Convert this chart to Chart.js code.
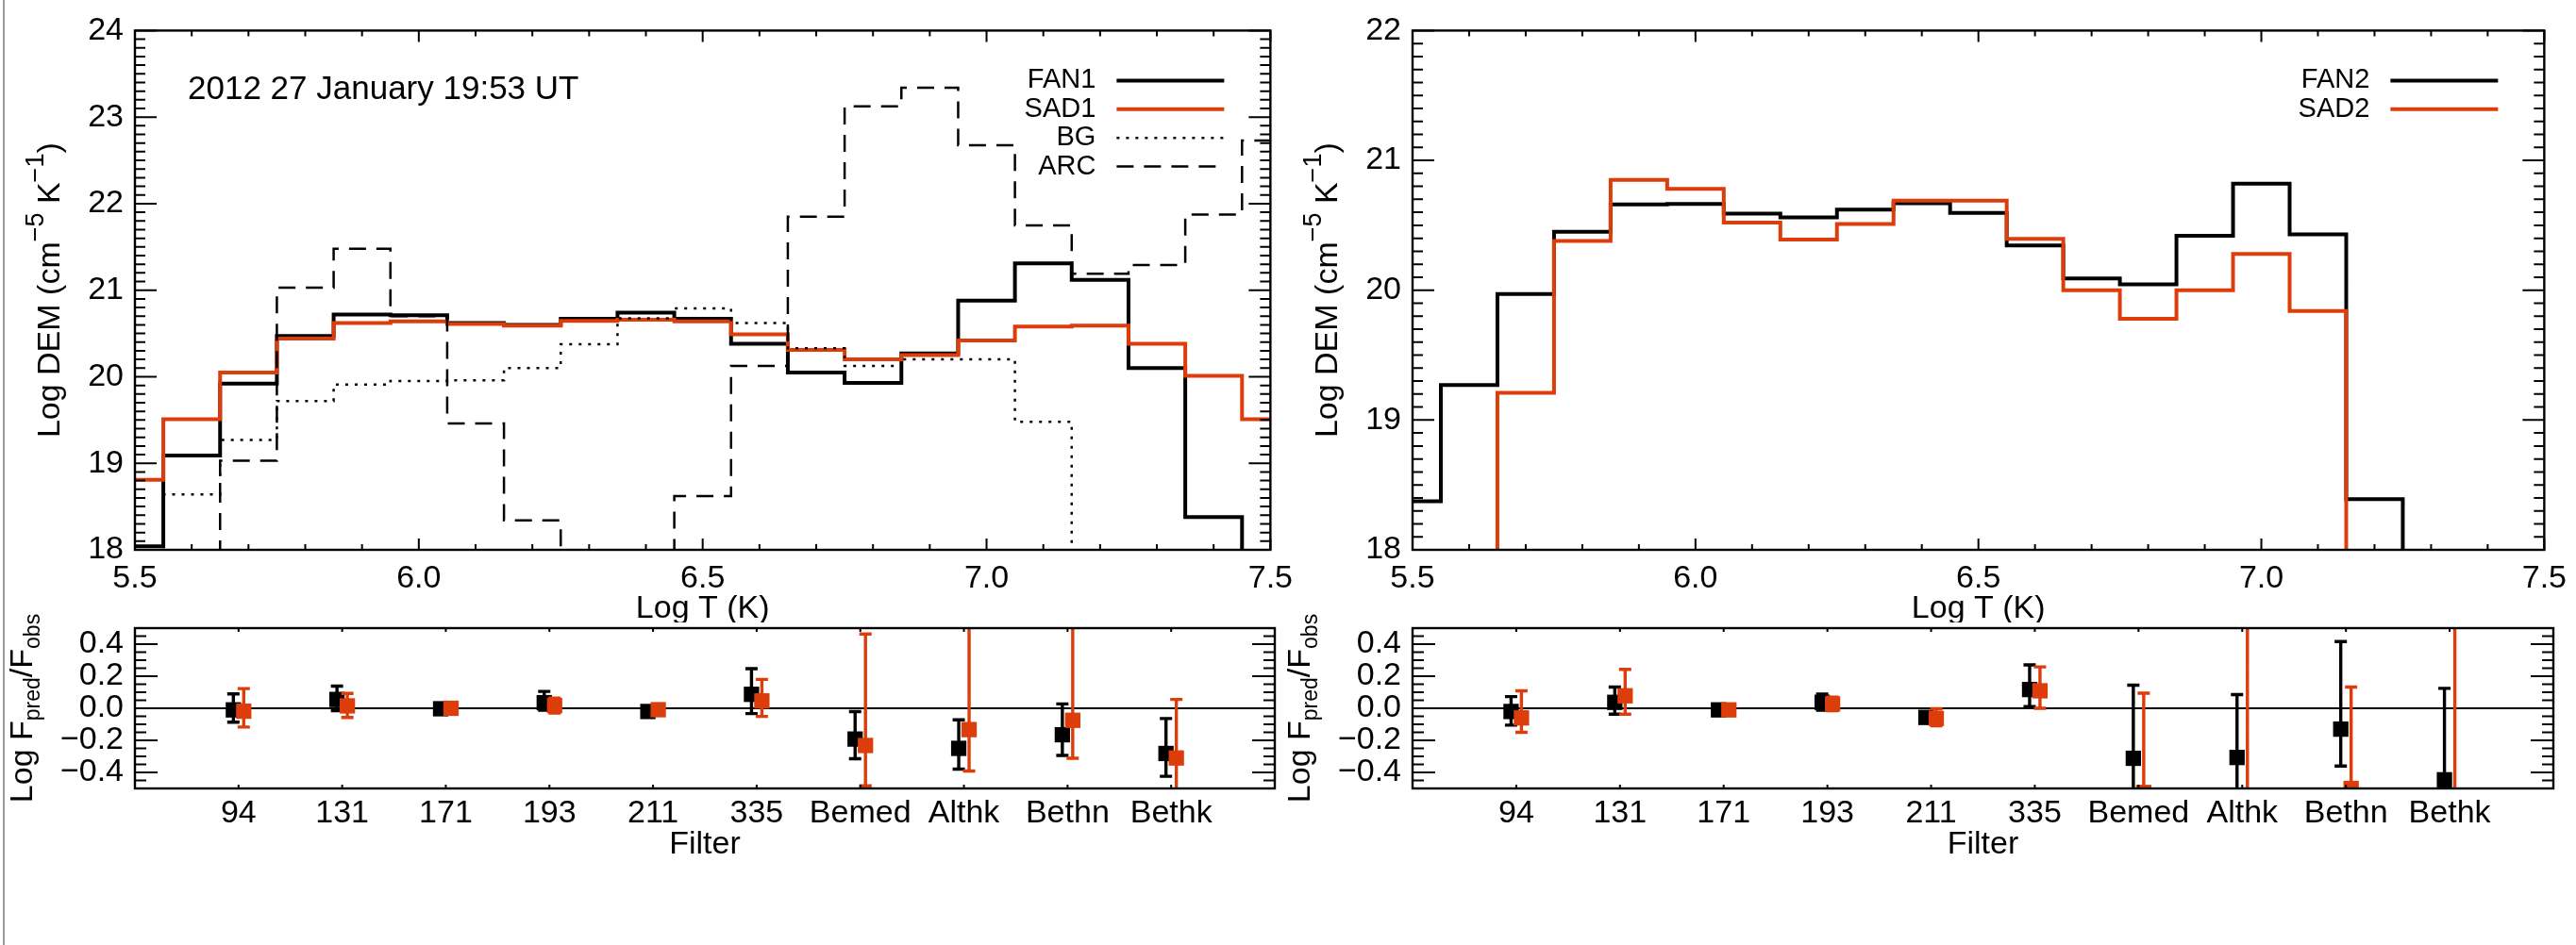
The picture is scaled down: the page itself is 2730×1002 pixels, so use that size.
<!DOCTYPE html>
<html>
<head>
<meta charset="utf-8">
<script src="https://cdn.jsdelivr.net/npm/chart.js@4.4.0/dist/chart.umd.min.js"></script>
<style>
  body { margin: 0; background: #fff; width: 2730px; height: 1002px; position: relative; overflow: hidden; }
  canvas { position: absolute; }
  .edge { position: absolute; left: 3px; top: 0; width: 2px; height: 1002px; background: #9a9a9a; }
</style>
</head>
<body>
<div class="edge"></div>
<canvas id="demLeft" width="1380" height="660" style="left:0;top:0"></canvas>
<canvas id="demRight" width="1370" height="660" style="left:1360px;top:0"></canvas>
<canvas id="resLeft" width="1380" height="402" style="left:0;top:600px"></canvas>
<canvas id="resRight" width="1370" height="402" style="left:1360px;top:600px"></canvas>
<script>
const FONT = '"Liberation Sans", Arial, Helvetica, sans-serif';
const RED = '#dc3d0a';

// bin centres, log T
const logT = [5.5, 5.6, 5.7, 5.8, 5.9, 6.0, 6.1, 6.2, 6.3, 6.4, 6.5,
              6.6, 6.7, 6.8, 6.9, 7.0, 7.1, 7.2, 7.3, 7.4, 7.5];

// Log DEM per bin (values below 18 fall off the plot)
const fan1 = [18.04, 19.09, 19.92, 20.47, 20.72, 20.71, 20.62, 20.60, 20.67, 20.74, 20.67,
              20.38, 20.05, 19.93, 20.27, 20.88, 21.31, 21.12, 20.10, 18.38, 17.0];
const sad1 = [18.81, 19.51, 20.05, 20.44, 20.62, 20.64, 20.61, 20.59, 20.645, 20.66, 20.64,
              20.49, 20.31, 20.20, 20.25, 20.42, 20.58, 20.59, 20.38, 20.01, 19.51];
const bg   = [17.0, 18.64, 19.27, 19.72, 19.91, 19.95, 19.96, 20.10, 20.375, 20.675, 20.79,
              20.62, 20.33, 20.125, 20.20, 20.20, 19.48, 17.0, 17.0, 17.0, 17.0];
const arc  = [17.0, 17.0, 19.03, 21.03, 21.48, 20.70, 19.46, 18.34, 17.0, 17.0, 18.62,
              20.125, 21.85, 23.125, 23.34, 22.675, 21.75, 21.19, 21.29, 21.875, 22.73];
const fan2 = [18.375, 19.27, 19.97, 20.45, 20.66, 20.665, 20.59, 20.56, 20.62, 20.67, 20.595,
              20.345, 20.09, 20.045, 20.42, 20.82, 20.43, 18.39, 17.0, 17.0, 17.0];
const sad2 = [17.0, 17.0, 19.21, 20.38, 20.85, 20.78, 20.52, 20.39, 20.51, 20.69, 20.69,
              20.395, 20.0, 19.78, 20.0, 20.28, 19.84, 17.0, 17.0, 17.0, 17.0];

// filter residuals: value, lower and upper end of error bar
const filters = ['94', '131', '171', '193', '211', '335', 'Bemed', 'Althk', 'Bethn', 'Bethk'];

const fan1Ratio = [-0.01, 0.055, -0.003, 0.035, -0.02, 0.087, -0.192, -0.25, -0.165, -0.282];
const fan1Lo    = [-0.087, -0.015, -0.013, -0.012, -0.04, -0.033, -0.315, -0.379, -0.294, -0.424];
const fan1Hi    = [0.09, 0.138, 0.007, 0.105, 0.0, 0.247, -0.021, -0.072, 0.027, -0.064];

const sad1Ratio = [-0.018, 0.015, 0.0, 0.017, -0.009, 0.046, -0.232, -0.133, -0.075, -0.31];
const sad1Lo    = [-0.117, -0.057, -0.008, -0.03, -0.025, -0.051, -0.484, -0.391, -0.312, -0.7];
const sad1Hi    = [0.123, 0.093, 0.008, 0.064, 0.007, 0.18, 0.463, 0.7, 0.7, 0.055];

const fan2Ratio = [-0.02, 0.037, -0.01, 0.037, -0.057, 0.117, -0.312, -0.307, -0.13, -0.446];
const fan2Lo    = [-0.105, -0.037, -0.025, -0.012, -0.085, 0.01, -0.8, -0.8, -0.36, -1.0];
const fan2Hi    = [0.073, 0.132, 0.005, 0.088, -0.03, 0.271, 0.144, 0.085, 0.416, 0.124];

const sad2Ratio = [-0.06, 0.078, -0.01, 0.027, -0.063, 0.109, -0.525, -0.9, -0.5, -0.9];
const sad2Lo    = [-0.15, -0.037, -0.02, -0.015, -0.109, 0.0, -1.2, -2.0, -1.2, -2.0];
const sad2Hi    = [0.109, 0.243, 0.0, 0.07, -0.003, 0.258, 0.094, 0.8, 0.132, 0.8];

const xy = (xs, ys) => ys.map((v, i) => ({ x: xs[i], y: v }));
const range = (a, b, step) => {
  const out = [];
  for (let v = a; v <= b + step / 1000; v += step) out.push(+v.toFixed(4));
  return out;
};

// IDL-style box with inward ticks on all four sides
const idlFrame = {
  id: 'idlFrame',
  afterDraw(chart, args, o) {
    const { ctx, chartArea: a, scales: { x, y } } = chart;
    ctx.save();
    ctx.strokeStyle = '#000';
    ctx.lineWidth = 2;
    ctx.beginPath();
    const xt = (vals, len) => vals.forEach(v => {
      const p = x.getPixelForValue(v);
      ctx.moveTo(p, a.bottom); ctx.lineTo(p, a.bottom - len);
      ctx.moveTo(p, a.top); ctx.lineTo(p, a.top + len);
    });
    const yt = (vals, len) => vals.forEach(v => {
      const p = y.getPixelForValue(v);
      ctx.moveTo(a.left, p); ctx.lineTo(a.left + len, p);
      ctx.moveTo(a.right, p); ctx.lineTo(a.right - len, p);
    });
    xt(o.xMinor, o.xLen[1]); xt(o.xMajor, o.xLen[0]);
    yt(o.yMinor, o.yLen[1]); yt(o.yMajor, o.yLen[0]);
    ctx.stroke();
    ctx.lineWidth = 2.4;
    ctx.strokeRect(a.left, a.top, a.right - a.left, a.bottom - a.top);
    ctx.restore();
  }
};

function drawRich(ctx, parts, cx, cy, rotate, align) {
  ctx.save();
  ctx.translate(cx, cy);
  if (rotate) ctx.rotate(-Math.PI / 2);
  let w = 0;
  parts.forEach(p => { ctx.font = `${p.size}px ${FONT}`; p.w = ctx.measureText(p.t).width; w += p.w; });
  let xx = align === 'left' ? 0 : -w / 2;
  ctx.fillStyle = '#000';
  ctx.textAlign = 'left';
  ctx.textBaseline = 'alphabetic';
  parts.forEach(p => {
    ctx.font = `${p.size}px ${FONT}`;
    ctx.fillText(p.t, xx, p.dy || 0);
    xx += p.w;
  });
  ctx.restore();
}

// axis titles, note and legend
const idlText = {
  id: 'idlText',
  afterDraw(chart, args, o) {
    const { ctx, chartArea: a } = chart;
    const midX = (a.left + a.right) / 2, midY = (a.top + a.bottom) / 2;
    drawRich(ctx, o.yTitle, a.left - o.yOff, midY, true);
    drawRich(ctx, [{ t: o.xTitle, size: 34 }], midX, a.bottom + o.xOff, false);
    if (o.note) drawRich(ctx, [{ t: o.note, size: 35 }], a.left + 56, a.top + 73, false, 'left');
    if (o.legend) {
      chart.data.datasets.forEach((ds, i) => {
        const yy = a.top + 53 + i * 30.4;
        ctx.save();
        ctx.font = `29px ${FONT}`;
        ctx.fillStyle = '#000';
        ctx.textAlign = 'right';
        ctx.textBaseline = 'middle';
        ctx.fillText(ds.label, a.right - 185, yy);
        ctx.strokeStyle = ds.borderColor;
        ctx.lineWidth = ds.borderWidth;
        ctx.setLineDash(ds.borderDash || []);
        ctx.beginPath();
        ctx.moveTo(a.right - 163, yy);
        ctx.lineTo(a.right - 49, yy);
        ctx.stroke();
        ctx.restore();
      });
    }
  }
};

// vertical error bars with caps, drawn just before each point set
const errorBars = {
  id: 'errorBars',
  beforeDatasetDraw(chart, args) {
    const ds = chart.data.datasets[args.index];
    if (!ds.lo) return;
    const { ctx, chartArea: a, scales: { x, y } } = chart;
    ctx.save();
    ctx.beginPath();
    ctx.rect(a.left, a.top, a.right - a.left, a.bottom - a.top);
    ctx.clip();
    ctx.strokeStyle = ds.backgroundColor;
    ctx.lineWidth = 3.4;
    ctx.beginPath();
    ds.data.forEach((p, i) => {
      const px = x.getPixelForValue(p.x);
      const y1 = y.getPixelForValue(ds.lo[i]);
      const y2 = y.getPixelForValue(ds.hi[i]);
      ctx.moveTo(px, y1); ctx.lineTo(px, y2);
      ctx.moveTo(px - 6.5, y1); ctx.lineTo(px + 6.5, y1);
      ctx.moveTo(px - 6.5, y2); ctx.lineTo(px + 6.5, y2);
    });
    ctx.stroke();
    ctx.restore();
  }
};

function axis(min, max, majors, fmt, size, pad) {
  return {
    type: 'linear', min, max,
    grid: { display: false, drawTicks: false },
    border: { display: false },
    afterBuildTicks: s => { s.ticks = majors.map(v => ({ value: v })); },
    afterFit: s => { if (s.isHorizontal()) s.height = size; else s.width = size; },
    ticks: { color: '#000', font: { family: FONT, size: 34 }, padding: pad,
             callback: fmt, maxRotation: 0, autoSkip: false }
  };
}

const fmtT = v => v.toFixed(1);
const fmtInt = v => String(v);
const fmtRatio = v => (v < 0 ? '\u2212' : '') + Math.abs(v).toFixed(1);
const fmtFilter = v => filters[v - 1] || '';

const demTitle = [
  { t: 'Log DEM (cm', size: 34 },
  { t: '\u22125', size: 27, dy: -17 },
  { t: ' K', size: 34 },
  { t: '\u22121', size: 27, dy: -17 },
  { t: ')', size: 34 }
];
const resTitle = [
  { t: 'Log F', size: 34 },
  { t: 'pred', size: 23, dy: 8 },
  { t: '/F', size: 34 },
  { t: 'obs', size: 23, dy: 8 }
];

function histSet(label, values, color, width, dash, order) {
  return {
    label, data: xy(logT, values), borderColor: color, borderWidth: width,
    borderDash: dash, stepped: 'middle', pointRadius: 0, fill: false, order, clip: 0
  };
}

function demChart(id, datasets, yMax, padRight, yWidth, note) {
  return new Chart(document.getElementById(id), {
    type: 'line',
    data: { datasets },
    plugins: [idlFrame, idlText],
    options: {
      responsive: false, animation: false, events: [],
      layout: { padding: { left: 0, top: 14, right: padRight, bottom: 0 } },
      scales: {
        x: axis(5.5, 7.5, [5.5, 6.0, 6.5, 7.0, 7.5], fmtT, 77, 10),
        y: axis(18, yMax, range(18, yMax, 1), fmtInt, yWidth, 12)
      },
      plugins: {
        legend: { display: false }, tooltip: { enabled: false },
        idlFrame: { xMajor: range(5.5, 7.5, 0.5), xMinor: range(5.5, 7.5, 0.1), xLen: [12, 6],
                    yMajor: range(18, yMax, 1), yMinor: range(18, yMax, 0.1), yLen: [23, 11] },
        idlText: { yTitle: demTitle, yOff: 80, xTitle: 'Log T (K)', xOff: 72, note, legend: true }
      }
    }
  });
}

function pointSet(label, values, lo, hi, color, shift, order) {
  return {
    label, data: values.map((v, i) => ({ x: i + 1 + shift, y: v })), lo, hi,
    backgroundColor: color, borderWidth: 0, pointStyle: 'rect', pointRadius: 11.5,
    showLine: false, order, clip: 0
  };
}

function resChart(id, black, red, padRight, yWidth) {
  return new Chart(document.getElementById(id), {
    type: 'scatter',
    data: {
      datasets: [
        { data: [{ x: 0, y: 0 }, { x: 11, y: 0 }], showLine: true, borderColor: '#000',
          borderWidth: 2, pointRadius: 0, order: 10, clip: 0 },
        black, red
      ]
    },
    plugins: [idlFrame, idlText, errorBars],
    options: {
      responsive: false, animation: false, events: [],
      layout: { padding: { left: 0, top: 66, right: padRight, bottom: 0 } },
      scales: {
        x: axis(0, 11, range(1, 10, 1), fmtFilter, 166, 6),
        y: axis(-0.5, 0.5, [-0.4, -0.2, 0, 0.2, 0.4], fmtRatio, yWidth, 12)
      },
      plugins: {
        legend: { display: false }, tooltip: { enabled: false },
        idlFrame: { xMajor: range(1, 10, 1), xMinor: [], xLen: [4, 2],
                    yMajor: [-0.4, -0.2, 0, 0.2, 0.4], yMinor: range(-0.5, 0.5, 0.05), yLen: [24, 12] },
        idlText: { yTitle: resTitle, yOff: 109, xTitle: 'Filter', xOff: 69, legend: false }
      }
    }
  });
}

demChart('demLeft', [
  histSet('FAN1', fan1, '#000', 4, [], 4),
  histSet('SAD1', sad1, RED, 4, [], 3),
  histSet('BG', bg, '#000', 2.5, [3, 7], 2),
  histSet('ARC', arc, '#000', 2.5, [18, 11], 1)
], 24, 29, 143, '2012 27 January 19:53 UT');

demChart('demRight', [
  histSet('FAN2', fan2, '#000', 4, [], 2),
  histSet('SAD2', sad2, RED, 4, [], 1)
], 22, 24, 137, null);

resChart('resLeft',
  pointSet('FAN1', fan1Ratio, fan1Lo, fan1Hi, '#000', -0.05, 2),
  pointSet('SAD1', sad1Ratio, sad1Lo, sad1Hi, RED, 0.05, 1), 29, 143);

resChart('resRight',
  pointSet('FAN2', fan2Ratio, fan2Lo, fan2Hi, '#000', -0.05, 2),
  pointSet('SAD2', sad2Ratio, sad2Lo, sad2Hi, RED, 0.05, 1), 24, 137);
</script>
</body>
</html>
